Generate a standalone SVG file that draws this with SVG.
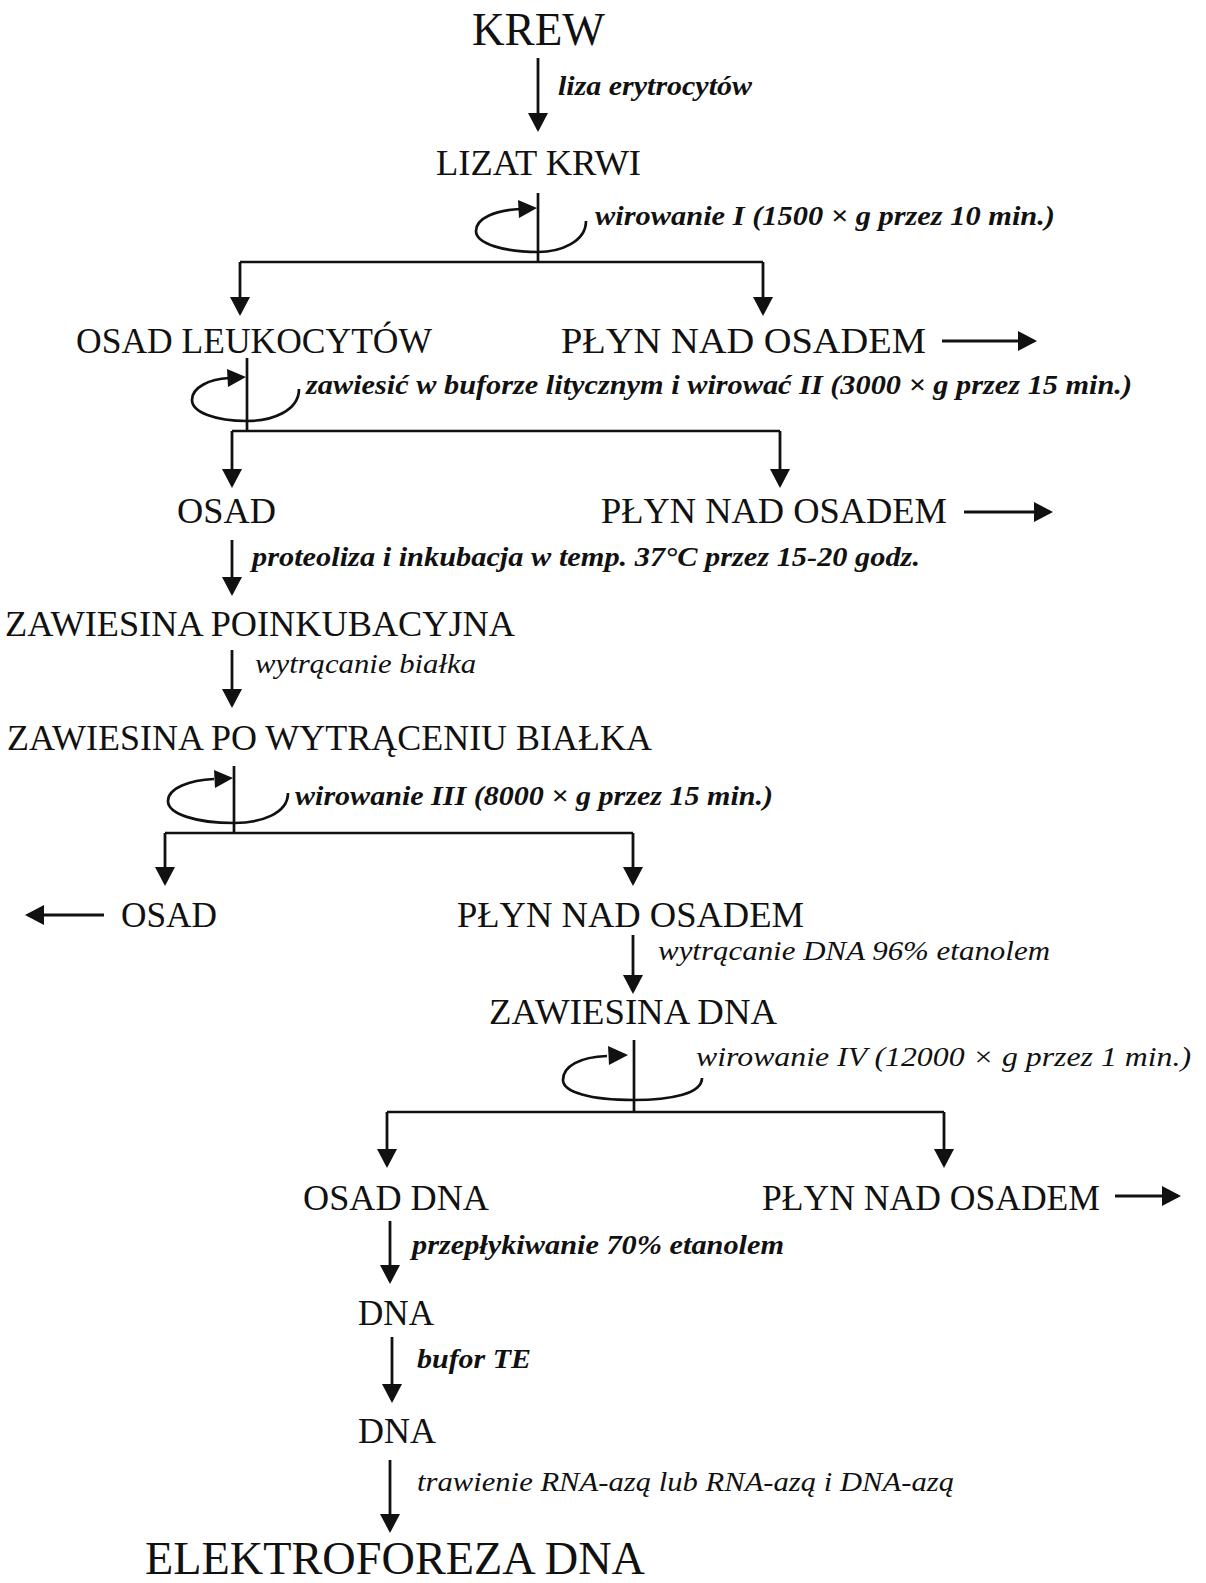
<svg xmlns="http://www.w3.org/2000/svg" width="1206" height="1583" viewBox="0 0 1206 1583">
<style>
.n{font-family:"Liberation Serif","Times New Roman",serif;font-size:36px;fill:#111}
.big{font-size:47px}
.l{font-family:"Liberation Serif","Times New Roman",serif;font-size:28px;font-style:italic;fill:#111}
.b{font-weight:bold}
.ln{stroke:#111;stroke-width:2.7;fill:none}
.ar{stroke:#111;stroke-width:2.8;fill:none;marker-end:url(#ah)}
.hd{fill:#111;stroke:none}
</style>
<defs>
<marker id="ah" markerUnits="userSpaceOnUse" viewBox="0 0 19 20" markerWidth="19" markerHeight="20" refX="16" refY="10" orient="auto">
<path d="M0,0 L19,10 L0,20 z" fill="#111"/>
</marker>
</defs>
<rect width="1206" height="1583" fill="#fff"/>

<g id="krew"><text class="n big" x="472" y="45" textLength="133" lengthAdjust="spacingAndGlyphs">KREW</text></g>
<g id="lizat"><text class="n" x="436" y="175" textLength="205" lengthAdjust="spacingAndGlyphs">LIZAT KRWI</text></g>
<g id="osad-leuk"><text class="n" x="76" y="353" textLength="356" lengthAdjust="spacingAndGlyphs">OSAD LEUKOCYTÓW</text></g>
<g id="plyn1"><text class="n" x="561" y="353" textLength="365" lengthAdjust="spacingAndGlyphs">PŁYN NAD OSADEM</text></g>
<g id="osad1"><text class="n" x="177" y="523" textLength="99" lengthAdjust="spacingAndGlyphs">OSAD</text></g>
<g id="plyn2"><text class="n" x="601" y="523" textLength="346" lengthAdjust="spacingAndGlyphs">PŁYN NAD OSADEM</text></g>
<g id="zaw-poink"><text class="n" x="5" y="636" textLength="510" lengthAdjust="spacingAndGlyphs">ZAWIESINA POINKUBACYJNA</text></g>
<g id="zaw-wytr"><text class="n" x="7" y="750" textLength="645" lengthAdjust="spacingAndGlyphs">ZAWIESINA PO WYTRĄCENIU BIAŁKA</text></g>
<g id="osad2"><text class="n" x="121" y="927" textLength="96" lengthAdjust="spacingAndGlyphs">OSAD</text></g>
<g id="plyn3"><text class="n" x="457" y="927" textLength="347" lengthAdjust="spacingAndGlyphs">PŁYN NAD OSADEM</text></g>
<g id="zaw-dna"><text class="n" x="489" y="1024" textLength="288" lengthAdjust="spacingAndGlyphs">ZAWIESINA DNA</text></g>
<g id="osad-dna"><text class="n" x="303" y="1210" textLength="186" lengthAdjust="spacingAndGlyphs">OSAD DNA</text></g>
<g id="plyn4"><text class="n" x="762" y="1210" textLength="338" lengthAdjust="spacingAndGlyphs">PŁYN NAD OSADEM</text></g>
<g id="dna1"><text class="n" x="358" y="1325" textLength="76" lengthAdjust="spacingAndGlyphs">DNA</text></g>
<g id="dna2"><text class="n" x="358" y="1443" textLength="78" lengthAdjust="spacingAndGlyphs">DNA</text></g>
<g id="elektro"><text class="n big" x="145" y="1574" textLength="500" lengthAdjust="spacingAndGlyphs">ELEKTROFOREZA DNA</text></g>

<g id="connectors">
<!-- KREW -> LIZAT -->
<line class="ar" x1="538" y1="58" x2="538" y2="129"/>
<text class="l b" x="558" y="95" textLength="194" lengthAdjust="spacingAndGlyphs">liza erytrocytów</text>
<!-- spin I -->
<line class="ln" x1="538" y1="193" x2="538" y2="262"/>
<path class="ln" d="M586,221 C586,242 560,252 538,252 C505,252 476,244 476,231 C476,218 496,210 520,209"/>
<path class="hd" d="M537,208 L518,200 L519,218 z"/>
<text class="l b" x="595" y="225" textLength="460" lengthAdjust="spacingAndGlyphs">wirowanie I (1500 × g przez 10 min.)</text>
<line class="ln" x1="240" y1="262" x2="763" y2="262"/>
<line class="ar" x1="240" y1="262" x2="240" y2="313"/>
<line class="ar" x1="763" y1="262" x2="763" y2="313"/>
<line class="ar" x1="942" y1="341" x2="1034" y2="341"/>
<!-- spin II -->
<line class="ln" x1="247" y1="358" x2="247" y2="431"/>
<path class="ln" d="M299,389 C299,411 272,421 247,421 C215,421 192,412 192,400 C192,387 210,379 229,378"/>
<path class="hd" d="M246,377 L227,369 L228,387 z"/>
<text class="l b" x="306" y="394" textLength="826" lengthAdjust="spacingAndGlyphs">zawiesić w buforze litycznym i wirować II (3000 × g przez 15 min.)</text>
<line class="ln" x1="232" y1="431" x2="780" y2="431"/>
<line class="ar" x1="232" y1="431" x2="232" y2="485"/>
<line class="ar" x1="780" y1="431" x2="780" y2="485"/>
<line class="ar" x1="964" y1="512" x2="1050" y2="512"/>
<!-- OSAD -> POINK -->
<line class="ar" x1="232" y1="540" x2="232" y2="593"/>
<text class="l b" x="252" y="566" textLength="668" lengthAdjust="spacingAndGlyphs">proteoliza i inkubacja w temp. 37°C przez 15-20 godz.</text>
<line class="ar" x1="232" y1="650" x2="232" y2="705"/>
<text class="l" x="255" y="673" textLength="221" lengthAdjust="spacingAndGlyphs">wytrącanie białka</text>
<!-- spin III -->
<line class="ln" x1="234" y1="766" x2="234" y2="833"/>
<path class="ln" d="M288,793 C288,814 260,823 234,823 C196,823 168,814 168,801 C168,788 190,780 214,779"/>
<path class="hd" d="M233,778 L214,770 L215,788 z"/>
<text class="l b" x="295" y="805" textLength="478" lengthAdjust="spacingAndGlyphs">wirowanie III (8000 × g przez 15 min.)</text>
<line class="ln" x1="165" y1="833" x2="633" y2="833"/>
<line class="ar" x1="165" y1="833" x2="165" y2="883"/>
<line class="ar" x1="633" y1="833" x2="633" y2="883"/>
<line class="ar" x1="104" y1="915" x2="28" y2="915"/>
<line class="ar" x1="633" y1="935" x2="633" y2="991"/>
<text class="l" x="658" y="960" textLength="392" lengthAdjust="spacingAndGlyphs">wytrącanie DNA 96% etanolem</text>
<!-- spin IV -->
<line class="ln" x1="634" y1="1040" x2="634" y2="1112"/>
<path class="ln" d="M702,1078 C702,1094 670,1100 634,1100 C590,1100 563,1092 563,1080 C563,1066 580,1057 607,1056"/>
<path class="hd" d="M628,1055 L608,1046 L609,1065 z"/>
<text class="l" x="696" y="1066" textLength="495" lengthAdjust="spacingAndGlyphs">wirowanie IV (12000 × g przez 1 min.)</text>
<line class="ln" x1="387" y1="1112" x2="944" y2="1112"/>
<line class="ar" x1="387" y1="1112" x2="387" y2="1165"/>
<line class="ar" x1="944" y1="1112" x2="944" y2="1165"/>
<line class="ar" x1="1115" y1="1196" x2="1178" y2="1196"/>
<line class="ar" x1="390" y1="1221" x2="390" y2="1281"/>
<text class="l b" x="412" y="1254" textLength="372" lengthAdjust="spacingAndGlyphs">przepłykiwanie 70% etanolem</text>
<line class="ar" x1="392" y1="1337" x2="392" y2="1400"/>
<text class="l b" x="417" y="1368" textLength="114" lengthAdjust="spacingAndGlyphs">bufor TE</text>
<line class="ar" x1="390" y1="1460" x2="390" y2="1530"/>
<text class="l" x="417" y="1491" textLength="537" lengthAdjust="spacingAndGlyphs">trawienie RNA-azą lub RNA-azą i DNA-azą</text>
</g>
</svg>
